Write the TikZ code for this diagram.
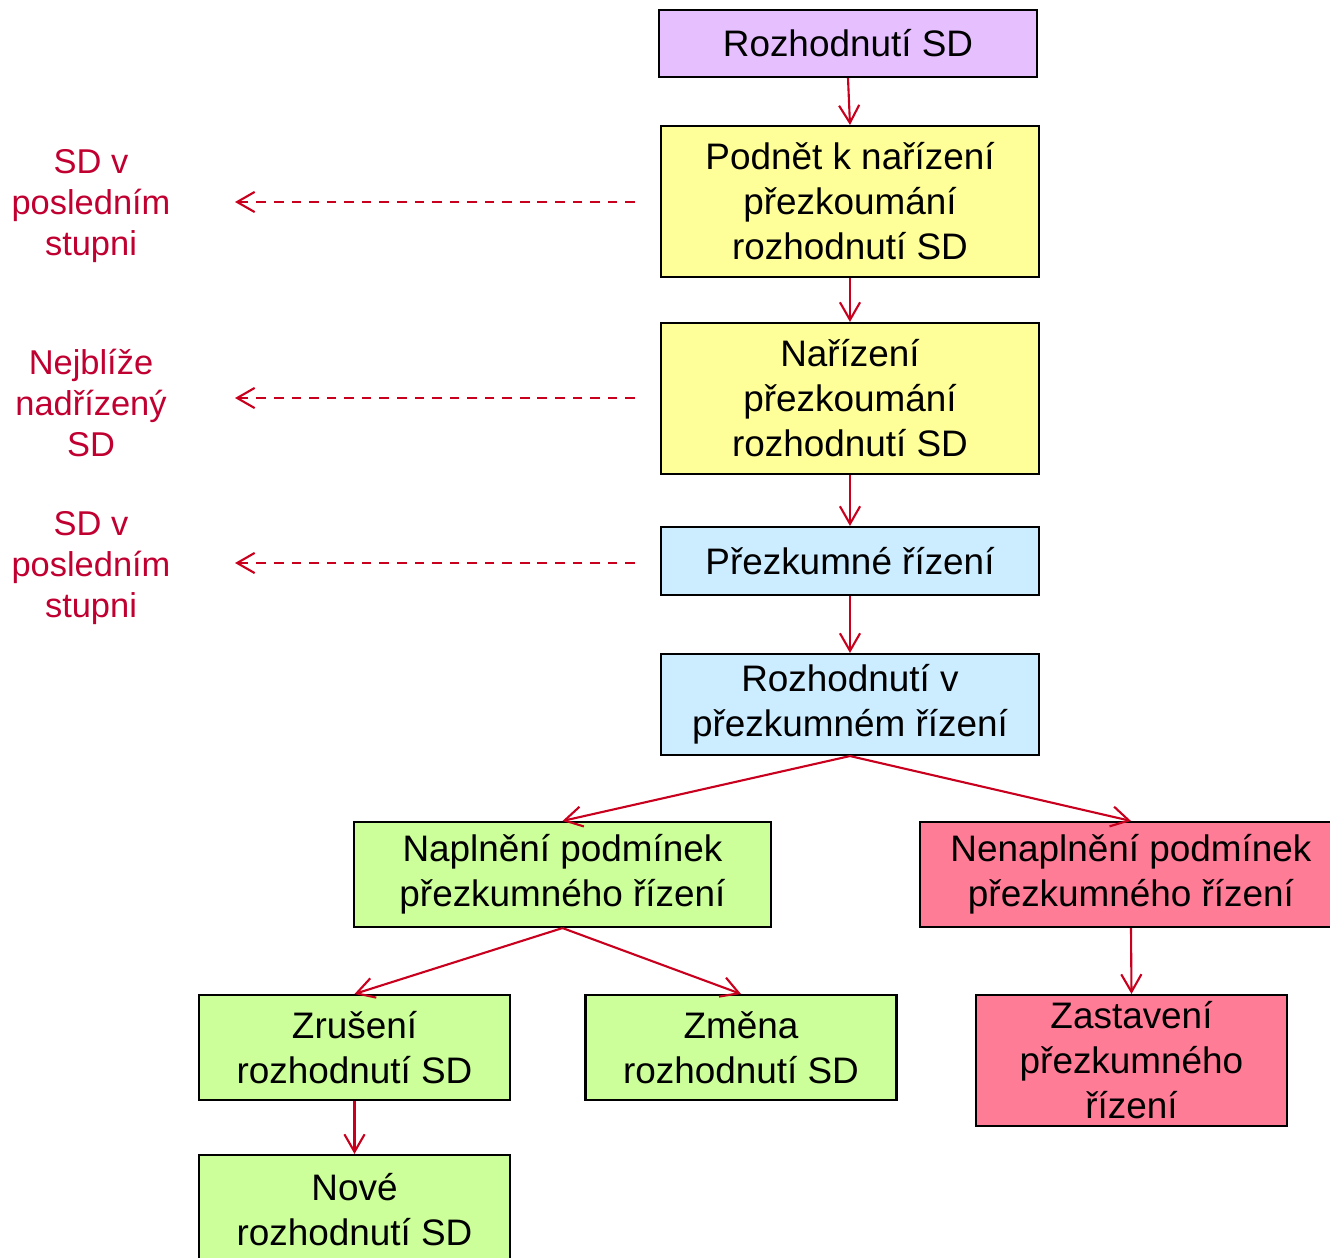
\documentclass[tikz,border=0pt]{standalone}
\usepackage{fontspec}
\setmainfont{Liberation Sans}
\usetikzlibrary{arrows.meta}
\definecolor{lilac}{RGB}{230,191,255}
\definecolor{paleyellow}{RGB}{255,255,153}
\definecolor{paleblue}{RGB}{204,236,255}
\definecolor{palegreen}{RGB}{204,255,153}
\definecolor{rosered}{RGB}{255,124,151}
\definecolor{linkred}{RGB}{200,0,30}
\definecolor{notered}{RGB}{192,0,48}
\tikzstyle{box} = [draw, line width=1.2pt, align=center, inner sep=0pt,
  font=\fontsize{21}{25.6}\selectfont]
\tikzstyle{note} = [align=center, text=notered, font=\fontsize{19.6}{23.5}\selectfont]
\tikzstyle{link} = [draw=linkred, line width=1.2pt, -{Straight Barb[length=10pt,width=11.5pt]}]
\tikzstyle{hint} = [link, dash pattern=on 5.5pt off 4.5pt]

\begin{document}
\begin{tikzpicture}[x=0.02cm, y=-0.02cm]
  \useasboundingbox (0,0) rectangle (1330,1258);
  % main column
  \node [box, fill=lilac, minimum width=7.56cm, minimum height=1.34cm] (rozh) at (848,43.5) {Rozhodnutí SD};
  \node [box, fill=paleyellow, minimum width=7.56cm, minimum height=3.02cm] (podnet) at (850,201.5)
    {Podnět k nařízení \\ přezkoumání \\ rozhodnutí SD};
  \node [box, fill=paleyellow, minimum width=7.56cm, minimum height=3.02cm] (narizeni) at (850,398.5)
    {Nařízení \\ přezkoumání \\ rozhodnutí SD};
  \node [box, fill=paleblue, minimum width=7.56cm, minimum height=1.36cm] (rizeni) at (850,561)
    {Přezkumné řízení};
  \node [box, fill=paleblue, minimum width=7.56cm, minimum height=2.02cm] (rozhv) at (850,704.5)
    {Rozhodnutí v \\ přezkumném řízení};
  % branches
  \node [box, fill=palegreen, minimum width=8.34cm, minimum height=2.1cm] (napl) at (562.5,874.5)
    {Naplnění podmínek \\ přezkumného řízení};
  \node [box, fill=rosered, minimum width=8.44cm, minimum height=2.1cm] (nenapl) at (1131,874.5)
    {Nenaplnění podmínek \\ přezkumného řízení};
  \node [box, fill=palegreen, minimum width=6.22cm, minimum height=2.1cm] (zrus) at (354.5,1047.5)
    {Zrušení \\ rozhodnutí SD};
  \node [box, fill=palegreen, minimum width=6.22cm, minimum height=2.1cm] (zmena) at (741,1047.5)
    {Změna \\ rozhodnutí SD};
  \node [box, fill=rosered, minimum width=6.22cm, minimum height=2.62cm] (zast) at (1131.5,1060.5)
    {Zastavení \\ přezkumného \\ řízení};
  \node [box, fill=palegreen, minimum width=6.22cm, minimum height=2.2cm] (nove) at (354.5,1210)
    {Nové \\ rozhodnutí SD};
  % side notes
  \node [note] (kdo1) at (91,206) {SD v \\ posledním \\ stupni};
  \node [note] (kdo2) at (91,403) {Nejblíže \\ nadřízený \\ SD};
  \node [note] (kdo3) at (91,568) {SD v \\ posledním \\ stupni};
  \coordinate (s1) at (635,202);
  \coordinate (s2) at (635,398);
  \coordinate (s3) at (635,563);
  \coordinate (e1) at (235,202);
  \coordinate (e2) at (235,398);
  \coordinate (e3) at (235,563);

  \draw [link] (rozh.south) -- (podnet.north);
  \draw [link] (podnet.south) -- (narizeni.north);
  \draw [link] (narizeni.south) -- (rizeni.north);
  \draw [link] (rizeni.south) -- (rozhv.north);
  \draw [link] (rozhv.south) -- (napl.north);
  \draw [link] (rozhv.south) -- (nenapl.north);
  \draw [link] (napl.south) -- (zrus.north);
  \draw [link] (napl.south) -- (zmena.north);
  \draw [link] (nenapl.south) -- (zast.north);
  \draw [link] (zrus.south) -- (nove.north);
  \draw [hint] (s1) -- (e1);
  \draw [hint] (s2) -- (e2);
  \draw [hint] (s3) -- (e3);
\end{tikzpicture}
\end{document}
